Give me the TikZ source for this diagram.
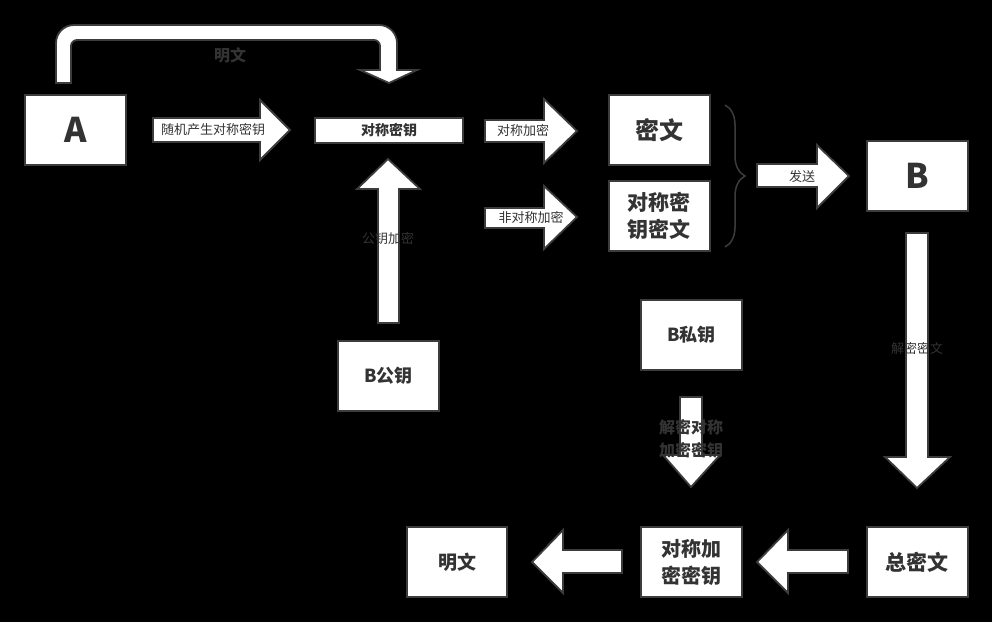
\documentclass[tikz,border=0pt]{standalone}
\usepackage{fontspec}
\setmainfont{Noto Sans CJK SC}
\usepackage{tikz}
\usetikzlibrary{decorations.pathreplacing}
\definecolor{edgegray}{HTML}{3C3C3C}
\definecolor{textgray}{HTML}{333333}
\newcommand{\fs}[2]{\fontsize{#1}{#2}\selectfont}
\tikzset{
	box/.style={draw=edgegray, fill=white, line width=2pt, inner sep=0pt, align=center,
		text=textgray, minimum width=101pt, minimum height=70pt},
	blockarrow/.style={draw=edgegray, fill=white, line width=1.8pt, line join=miter},
	lbl/.style={text=textgray, inner sep=0pt, align=center, font=\fs{13}{16}}
}

\begin{document}
\begin{tikzpicture}[x=1pt,y=-1pt]
	\fill[black] (0,0) rectangle (992,622);
	% boxes
	\node[box, font=\bfseries\fs{34}{40}] (A) at (75.5,130) {A};
	\node[box, font=\bfseries\fs{14}{16}, minimum width=148pt, minimum height=25pt] (key) at (389,130) {对称密钥};
	\node[box, font=\bfseries\fs{24}{28}] (cipher) at (659,130) {密文};
	\node[box, font=\bfseries\fs{21}{27}] (keycipher) at (659,216) {对称密\\钥密文};
	\node[box, font=\bfseries\fs{34}{40}] (B) at (917,176) {B};
	\node[box, font=\bfseries\fs{18}{22}] (Bpub) at (388.5,376) {B公钥};
	\node[box, font=\bfseries\fs{18}{22}] (Bpriv) at (691.5,335) {B私钥};
	\node[box, font=\bfseries\fs{19}{22}, minimum width=100pt] (plain) at (457,562) {明文};
	\node[box, font=\bfseries\fs{20}{27}] (symkey) at (691.5,562) {对称加\\密密钥};
	\node[box, font=\bfseries\fs{21}{25}] (total) at (917,562) {总密文};
	% block arrows
	\draw[blockarrow] (56,83) [rounded corners=18pt] -- (56,25) -- (397,25) [sharp corners] -- (397,70) -- (417,70) -- (389,83) -- (360,70) -- (380,70) [rounded corners=6pt] -- (380,40) -- (71,40) [sharp corners] -- (71,83) -- cycle;
	\draw[blockarrow] (153,118) -- (260,118) -- (260,100) -- (290,130) -- (260,160) -- (260,142) -- (153,142) -- cycle;
	\draw[blockarrow] (485,120) -- (544,120) -- (544,99) -- (577,131) -- (544,163) -- (544,142) -- (485,142) -- cycle;
	\draw[blockarrow] (485,208) -- (544,208) -- (544,186) -- (577,217) -- (544,249) -- (544,228) -- (485,228) -- cycle;
	\draw[blockarrow] (757,164) -- (817,164) -- (817,145) -- (849,176) -- (817,208) -- (817,187) -- (757,187) -- cycle;
	\draw[blockarrow] (378,323) -- (378,189) -- (357,189) -- (388,159) -- (420,189) -- (399,189) -- (399,323) -- cycle;
	\draw[blockarrow] (680,397) -- (680,455) -- (663,455) -- (691,487) -- (720,455) -- (702,455) -- (702,397) -- cycle;
	\draw[blockarrow] (906,233) -- (906,457) -- (885,457) -- (917,488) -- (950,457) -- (928,457) -- (928,233) -- cycle;
	\draw[blockarrow] (622,550) -- (563,550) -- (563,530) -- (532,562) -- (563,593) -- (563,573) -- (622,573) -- cycle;
	\draw[blockarrow] (848,550) -- (788,550) -- (788,530) -- (757,562) -- (788,593) -- (788,573) -- (848,573) -- cycle;
	% brace
	\draw[edgegray, line width=1.5pt, decorate, decoration={brace, amplitude=20pt}] (725,105) -- (725,247);
	% labels
	\node[lbl, font=\bfseries\fs{16}{20}] (plaintop) at (230,55) {明文};
	\node[lbl] (genkey) at (213,130) {随机产生对称密钥};
	\node[lbl] (symenc) at (523,130) {对称加密};
	\node[lbl] (asymenc) at (531,217) {非对称加密};
	\node[lbl] (send) at (802,177) {发送};
	\node[lbl] (pubenc) at (388,239) {公钥加密};
	\node[lbl, font=\bfseries\fs{16}{23}] (deckey) at (691,439) {解密对称\\加密密钥};
	\node[lbl] (decmsg) at (917,349) {解密密文};
\end{tikzpicture}
\end{document}
